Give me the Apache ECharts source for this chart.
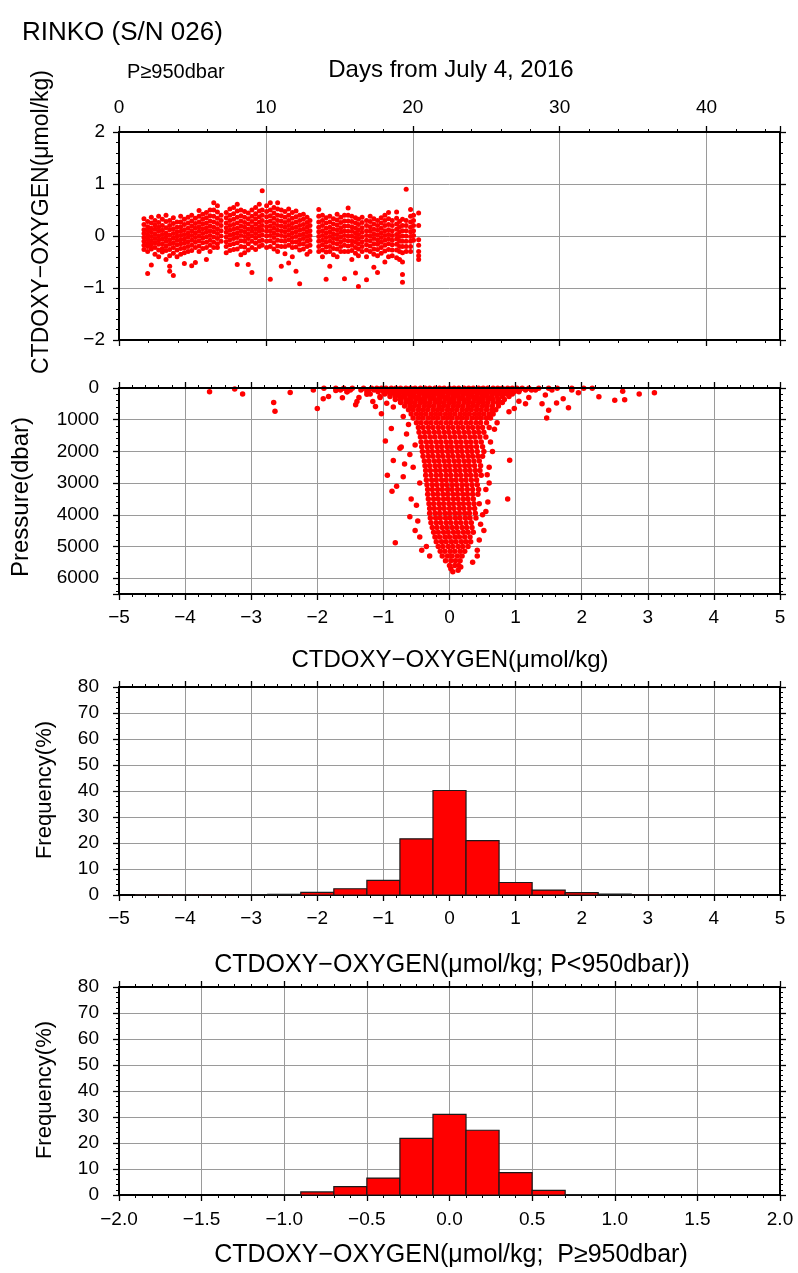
<!DOCTYPE html>
<html><head><meta charset="utf-8">
<script src="https://cdn.jsdelivr.net/npm/echarts@6/dist/echarts.min.js"></script>
<style>html,body{margin:0;padding:0;background:#fff}#c{width:798px;height:1273px}</style>
</head><body><div id="c"></div>
<script>
// ---------- Panel 1: CTDOXY-OXYGEN vs days (P>=950dbar), one column per cast ----------
const p1Days = [1.7,1.95,2.2,2.45,2.7,2.95,3.2,3.45,3.7,3.95,4.2,4.45,4.7,4.95,5.2,5.45,5.7,5.95,6.2,6.45,6.7,6.95,
 7.3,7.55,7.8,8.05,8.3,8.55,8.8,9.05,9.3,9.55,9.75,10.05,10.3,10.55,10.8,11.05,11.3,11.55,11.8,12.05,12.3,12.55,12.8,13.0,
 13.6,13.85,14.1,14.35,14.6,14.85,15.1,15.35,15.6,15.85,16.1,16.3,16.55,16.85,17.1,17.35,17.6,17.85,18.1,18.35,18.6,18.9,
 19.1,19.3,19.55,19.85,20.05,20.4];
const p1Vals = [
 [0.33,0.22,0.12,0.05,-0.03,-0.1,-0.18,-0.26],
 [0.28,0.18,0.1,0.02,-0.06,-0.14,-0.2,-0.3,-0.72],
 [0.36,0.25,0.15,0.07,-0.01,-0.09,-0.17,-0.25,-0.56],
 [0.3,0.21,0.13,0.04,-0.05,-0.13,-0.22,-0.35],
 [0.38,0.26,0.17,0.09,0.0,-0.08,-0.16,-0.27,-0.4],
 [0.32,0.2,0.11,0.03,-0.06,-0.15,-0.24,-0.31],
 [0.4,0.28,0.16,0.06,-0.02,-0.1,-0.19,-0.28,-0.45],
 [0.3,0.2,0.12,0.02,-0.07,-0.16,-0.26,-0.38,-0.58,-0.68],
 [0.35,0.24,0.14,0.05,-0.04,-0.13,-0.22,-0.33,-0.76],
 [0.27,0.17,0.08,0.0,-0.08,-0.17,-0.27,-0.4],
 [0.38,0.27,0.18,0.09,0.01,-0.07,-0.15,-0.24,-0.35],
 [0.32,0.22,0.12,0.03,-0.06,-0.14,-0.23,-0.32,-0.53],
 [0.36,0.25,0.15,0.06,-0.02,-0.11,-0.2,-0.3],
 [0.4,0.29,0.19,0.1,0.01,-0.08,-0.18,-0.28,-0.57],
 [0.34,0.24,0.15,0.06,-0.03,-0.12,-0.22,-0.51],
 [0.49,0.38,0.27,0.18,0.09,0.0,-0.09,-0.19,-0.3],
 [0.42,0.32,0.23,0.14,0.05,-0.04,-0.13,-0.24],
 [0.45,0.35,0.25,0.16,0.07,-0.02,-0.12,-0.22,-0.45],
 [0.5,0.39,0.29,0.19,0.1,0.01,-0.08,-0.18,-0.3],
 [0.64,0.5,0.38,0.27,0.17,0.08,-0.02,-0.12,-0.22],
 [0.58,0.46,0.34,0.24,0.14,0.05,-0.05,-0.15,-0.22],
 [0.4,0.3,0.2,0.1,0.0,-0.1],
 [0.45,0.35,0.25,0.16,0.07,-0.02,-0.11,-0.2,-0.32],
 [0.52,0.4,0.3,0.2,0.11,0.02,-0.07,-0.17,-0.28],
 [0.55,0.43,0.32,0.22,0.13,0.04,-0.05,-0.15,-0.26],
 [0.61,0.48,0.36,0.25,0.15,0.06,-0.03,-0.13,-0.25,-0.55],
 [0.5,0.39,0.29,0.19,0.1,0.01,-0.09,-0.2,-0.36],
 [0.47,0.36,0.26,0.17,0.08,-0.01,-0.1,-0.21,-0.32],
 [0.44,0.33,0.23,0.13,0.04,-0.05,-0.15,-0.27,-0.55],
 [0.5,0.38,0.28,0.18,0.09,0.0,-0.1,-0.22,-0.7],
 [0.55,0.43,0.33,0.23,0.14,0.05,-0.04,-0.14,-0.26],
 [0.61,0.48,0.37,0.27,0.18,0.09,0.0,-0.1,-0.2],
 [0.87,0.5,0.4,0.3,0.2,0.11,0.02,-0.08,-0.18],
 [0.58,0.47,0.37,0.27,0.18,0.09,0.0,-0.1,-0.22],
 [0.64,0.5,0.39,0.29,0.19,0.1,0.01,-0.09,-0.2,-0.83],
 [0.55,0.44,0.34,0.24,0.15,0.06,-0.03,-0.13,-0.25],
 [0.64,0.52,0.4,0.3,0.2,0.11,0.02,-0.08,-0.19,-0.3],
 [0.5,0.39,0.29,0.19,0.1,0.01,-0.09,-0.2,-0.58],
 [0.47,0.36,0.26,0.17,0.08,-0.01,-0.1,-0.2,-0.34],
 [0.52,0.4,0.3,0.2,0.11,0.02,-0.07,-0.18,-0.52],
 [0.45,0.34,0.24,0.15,0.06,-0.03,-0.12,-0.22,-0.4],
 [0.48,0.37,0.27,0.17,0.08,-0.01,-0.11,-0.21,-0.68],
 [0.4,0.3,0.2,0.11,0.02,-0.07,-0.16,-0.27,-0.92],
 [0.42,0.32,0.22,0.13,0.04,-0.05,-0.15,-0.25],
 [0.36,0.26,0.17,0.08,-0.01,-0.1,-0.2,-0.35],
 [0.3,0.2,0.1,0.01,-0.08,-0.18,-0.3],
 [0.51,0.38,0.27,0.17,0.08,-0.01,-0.1,-0.2,-0.3],
 [0.4,0.3,0.2,0.1,0.01,-0.08,-0.17,-0.27,-0.4],
 [0.35,0.25,0.15,0.06,-0.03,-0.12,-0.21,-0.31,-0.83],
 [0.38,0.27,0.17,0.08,-0.01,-0.1,-0.2,-0.3,-0.58],
 [0.33,0.23,0.13,0.04,-0.05,-0.14,-0.24,-0.36],
 [0.42,0.31,0.21,0.12,0.03,-0.06,-0.15,-0.25,-0.4],
 [0.36,0.26,0.16,0.07,-0.02,-0.11,-0.2,-0.3],
 [0.4,0.29,0.19,0.1,0.01,-0.08,-0.18,-0.3,-0.82],
 [0.54,0.4,0.29,0.19,0.09,0.0,-0.09,-0.19,-0.3],
 [0.38,0.28,0.18,0.09,0.0,-0.09,-0.18,-0.28,-0.45],
 [0.35,0.25,0.15,0.06,-0.03,-0.12,-0.22,-0.33,-0.71],
 [0.32,0.22,0.12,0.03,-0.06,-0.15,-0.25,-0.38,-0.97],
 [0.36,0.26,0.16,0.07,-0.02,-0.11,-0.2,-0.3],
 [0.3,0.2,0.1,0.01,-0.08,-0.17,-0.27,-0.4,-0.84],
 [0.38,0.28,0.18,0.09,0.0,-0.09,-0.19,-0.3],
 [0.33,0.23,0.13,0.04,-0.05,-0.15,-0.25,-0.35,-0.6],
 [0.3,0.2,0.11,0.02,-0.07,-0.16,-0.26,-0.38,-0.7],
 [0.35,0.25,0.15,0.06,-0.03,-0.12,-0.22,-0.33],
 [0.4,0.3,0.2,0.1,0.01,-0.08,-0.18,-0.29,-0.5],
 [0.45,0.33,0.22,0.12,0.03,-0.06,-0.15,-0.26,-0.4],
 [0.3,0.2,0.1,0.01,-0.08,-0.17,-0.27,-0.38],
 [0.46,0.34,0.23,0.13,0.03,-0.06,-0.16,-0.27,-0.42],
 [0.28,0.18,0.08,-0.01,-0.1,-0.2,-0.3,-0.45],
 [0.32,0.2,0.1,0.0,-0.1,-0.2,-0.32,-0.5,-0.74,-0.89],
 [0.9,0.3,0.2,0.1,0.0,-0.1,-0.2,-0.3],
 [0.51,0.38,0.27,0.17,0.08,-0.01,-0.1,-0.2,-0.3],
 [0.4,0.3,0.2,0.1,0.01,-0.08],
 [0.44,0.2,-0.07,-0.18,-0.3,-0.38,-0.45]
];

// ---------- Panel 2: pressure (dbar) vs CTDOXY-OXYGEN, grouped by pressure level ----------
const p2Press = [10,60,120,190,270,360,460,570,690,820,950,
 1100,1250,1400,1550,1700,1850,2000,2150,2300,2450,2600,2750,2900,3050,3200,3350,3500,3650,3800,3950,
 4100,4250,4400,4550,4700,4850,5000,5150,5300,5450,5600];
const p2Diff = [
 [-1.9,-1.72,-1.6,-1.47,-1.3,-1.18,-1.1,-1.03,-0.96,-0.88,-0.81,-0.74,-0.66,-0.59,-0.52,-0.44,-0.37,-0.3,-0.22,-0.15,-0.08,0.0,0.07,0.14,0.22,0.29,0.36,0.44,0.51,0.58,0.66,0.73,0.8,0.88,0.95,1.02,1.1,1.2,1.35,1.5,1.63,1.85,2.03,2.16],
 [-1.65,-1.5,-1.34,-1.22,-1.14,-1.06,-0.99,-0.92,-0.84,-0.77,-0.7,-0.62,-0.55,-0.48,-0.4,-0.33,-0.26,-0.18,-0.11,-0.04,0.04,0.11,0.18,0.26,0.33,0.4,0.48,0.55,0.62,0.7,0.77,0.84,0.92,0.99,1.06,1.15,1.3,1.55],
 [-1.55,-1.25,-1.08,-1.0,-0.93,-0.86,-0.78,-0.71,-0.64,-0.56,-0.49,-0.42,-0.34,-0.27,-0.2,-0.12,-0.05,0.02,0.1,0.17,0.24,0.32,0.39,0.46,0.54,0.61,0.68,0.76,0.83,0.9,0.98,1.05],
 [-1.2,-0.98,-0.9,-0.83,-0.76,-0.68,-0.61,-0.54,-0.46,-0.39,-0.32,-0.24,-0.17,-0.1,-0.02,0.05,0.12,0.2,0.27,0.34,0.42,0.49,0.56,0.64,0.71,0.78,0.86,0.95],
 [-1.05,-0.9,-0.82,-0.75,-0.68,-0.6,-0.53,-0.46,-0.38,-0.31,-0.24,-0.16,-0.09,-0.02,0.06,0.13,0.2,0.28,0.35,0.42,0.5,0.57,0.64,0.72,0.8,0.9],
 [-0.82,-0.74,-0.66,-0.59,-0.51,-0.44,-0.37,-0.29,-0.22,-0.15,-0.07,0.0,0.07,0.15,0.22,0.29,0.37,0.44,0.51,0.59,0.66,0.74,0.83],
 [-0.74,-0.66,-0.59,-0.52,-0.44,-0.37,-0.3,-0.22,-0.15,-0.08,0.0,0.07,0.14,0.22,0.29,0.36,0.44,0.51,0.58,0.66,0.73,0.8],
 [-0.68,-0.6,-0.53,-0.46,-0.38,-0.31,-0.24,-0.16,-0.09,-0.02,0.06,0.13,0.2,0.28,0.35,0.42,0.5,0.57,0.65,0.74],
 [-0.62,-0.55,-0.47,-0.4,-0.33,-0.25,-0.18,-0.11,-0.03,0.04,0.11,0.19,0.26,0.33,0.41,0.48,0.56,0.64,0.7],
 [-0.58,-0.5,-0.43,-0.36,-0.28,-0.21,-0.14,-0.06,0.01,0.08,0.16,0.23,0.3,0.38,0.45,0.52,0.6,0.66],
 [-0.55,-0.47,-0.4,-0.32,-0.25,-0.18,-0.1,-0.03,0.04,0.12,0.19,0.26,0.34,0.41,0.48,0.56,0.62],
 [-0.5,-0.43,-0.35,-0.28,-0.2,-0.13,-0.05,0.02,0.1,0.17,0.25,0.32,0.4,0.47,0.56],
 [-0.47,-0.4,-0.32,-0.25,-0.17,-0.1,-0.02,0.05,0.13,0.2,0.28,0.35,0.43,0.5,0.6],
 [-0.46,-0.38,-0.31,-0.23,-0.16,-0.08,-0.01,0.07,0.14,0.22,0.29,0.37,0.44,0.52],
 [-0.44,-0.37,-0.29,-0.22,-0.14,-0.07,0.01,0.08,0.16,0.23,0.31,0.38,0.46,0.55],
 [-0.43,-0.35,-0.28,-0.2,-0.13,-0.05,0.02,0.1,0.17,0.25,0.32,0.4,0.48],
 [-0.42,-0.34,-0.27,-0.19,-0.12,-0.04,0.03,0.11,0.18,0.26,0.33,0.41,0.5],
 [-0.41,-0.33,-0.26,-0.18,-0.11,-0.03,0.04,0.12,0.19,0.27,0.34,0.42,0.52],
 [-0.4,-0.32,-0.25,-0.17,-0.1,-0.02,0.05,0.13,0.2,0.28,0.35,0.43,0.5],
 [-0.38,-0.31,-0.23,-0.16,-0.08,-0.01,0.07,0.14,0.22,0.29,0.37,0.45],
 [-0.37,-0.3,-0.22,-0.15,-0.07,0.0,0.08,0.15,0.23,0.3,0.38,0.47],
 [-0.36,-0.29,-0.21,-0.14,-0.06,0.01,0.09,0.16,0.24,0.31,0.39,0.46],
 [-0.36,-0.28,-0.2,-0.13,-0.05,0.02,0.1,0.17,0.25,0.32,0.4,0.48],
 [-0.35,-0.27,-0.2,-0.12,-0.05,0.03,0.1,0.18,0.25,0.33,0.41],
 [-0.34,-0.26,-0.19,-0.11,-0.04,0.04,0.11,0.19,0.26,0.34,0.42],
 [-0.33,-0.26,-0.18,-0.11,-0.03,0.04,0.12,0.19,0.27,0.35,0.44],
 [-0.33,-0.25,-0.18,-0.1,-0.03,0.05,0.12,0.2,0.27,0.35,0.43],
 [-0.32,-0.24,-0.17,-0.09,-0.02,0.06,0.13,0.21,0.28,0.36],
 [-0.31,-0.24,-0.16,-0.09,-0.01,0.06,0.14,0.21,0.29,0.37,0.45],
 [-0.3,-0.23,-0.15,-0.08,0.0,0.07,0.15,0.22,0.3,0.38],
 [-0.3,-0.22,-0.15,-0.07,0.0,0.08,0.15,0.23,0.3,0.39],
 [-0.29,-0.21,-0.14,-0.06,0.01,0.09,0.16,0.24,0.31,0.4],
 [-0.28,-0.2,-0.13,-0.05,0.02,0.1,0.17,0.25,0.33],
 [-0.26,-0.19,-0.11,-0.04,0.04,0.11,0.19,0.26,0.34],
 [-0.24,-0.17,-0.09,-0.02,0.06,0.13,0.21,0.28,0.36],
 [-0.22,-0.15,-0.07,0.0,0.08,0.15,0.23,0.31],
 [-0.2,-0.12,-0.05,0.03,0.1,0.18,0.25,0.32],
 [-0.17,-0.1,-0.02,0.05,0.13,0.2,0.28],
 [-0.14,-0.07,0.01,0.08,0.16,0.23],
 [-0.11,-0.03,0.04,0.12,0.19],
 [-0.06,0.02,0.09,0.16],
 [0.0,0.08,0.14]
];
// scattered points [difference, pressure]
const p2Extra = [
 [-3.63,115],[-3.25,30],[-3.13,190],[-2.66,455],[-2.64,735],[-2.41,145],[-2.06,60],[-2.0,650],[-1.91,340],[-1.83,270],
 [-1.72,80],[-1.62,310],[-1.55,120],[-1.4,425],[-1.37,300],[-1.42,530],[-1.16,425],[-1.12,580],[-1.03,810],[-0.97,1670],
 [-0.88,1280],[-0.85,2290],[-0.75,1900],[-0.94,2750],[-0.87,3260],[-0.8,3100],[-0.7,2800],[-0.6,4060],[-0.82,4880],[-0.52,4500],
 [-0.42,5120],[-0.73,1860],[-0.65,1450],[-0.6,2100],[-0.55,2500],[-0.58,3500],[-0.5,3700],[-0.48,4200],[-0.45,3000],[-0.62,1150],
 [-0.7,900],[-0.85,600],[-0.95,480],[-1.05,300],[-1.25,200],[-0.68,2400],[-0.52,1800],[-0.45,4700],[-0.35,5000],[-0.3,5300],
 [3.1,150],[2.87,190],[2.65,370],[2.62,100],[2.5,390],[2.26,280],[1.95,150],[1.85,60],[1.8,620],[1.72,340],
 [1.62,470],[1.5,705],[1.47,950],[1.45,220],[1.4,500],[1.24,60],[1.15,500],[0.98,650],[0.9,750],[1.2,300],
 [1.05,420],[0.91,2280],[0.88,3500],[0.57,2740],[0.55,3200],[0.55,3900],[0.47,4300],[0.42,5120],[0.42,5300],[0.17,5650],
 [0.13,5750],[0.02,5700],[0.62,1700],[0.65,2000],[0.6,2500],[0.6,3000],[0.68,1300],[0.72,1100],[0.58,3600],[0.52,4500],
 [0.5,4000],[0.45,4800],[0.35,5500],[0.05,5800]
];

// ---------- Panel 3: histogram P<950dbar (bin width 0.5) ----------
const h1Centers = [-4.5,-4,-3.5,-3,-2.5,-2,-1.5,-1,-0.5,0,0.5,1,1.5,2,2.5,3];
const h1Freq    = [0.05,0.1,0.1,0.15,0.25,1.0,2.4,5.6,21.6,40.2,20.9,4.8,1.9,0.9,0.35,0.1];
const h1Width = 0.5;
// ---------- Panel 4: histogram P>=950dbar (bin width 0.2) ----------
const h2Centers = [-1.0,-0.8,-0.6,-0.4,-0.2,0.0,0.2,0.4,0.6,0.8];
const h2Freq    = [0.2,1.2,3.2,6.5,21.8,31.0,24.9,8.6,1.8,0.2];
const h2Width = 0.2;

// ---------- build ----------
const FONT = 'Liberation Sans';
const p1Data = [];
p1Days.forEach((d,i)=>(p1Vals[i]||[]).forEach(v=>p1Data.push([d,v])));
const p2Data = [];
p2Press.forEach((p,i)=>(p2Diff[i]||[]).forEach(x=>p2Data.push([x,p])));
p2Extra.forEach(e=>p2Data.push(e));
const h1Data = h1Centers.map((c,i)=>[c-h1Width/2, c+h1Width/2, h1Freq[i]]);
const h2Data = h2Centers.map((c,i)=>[c-h2Width/2, c+h2Width/2, h2Freq[i]]);

const minus = s => String(s).replace('-', '\u2212');
function axis(dim, g, o, lab, grid, front){
  const a = {
    type:'value', gridIndex:g, z: front ? 10 : 0,
    axisLine:{show:true,onZero:false,lineStyle:{color:'#000',width:2}},
    axisTick:{show:true,inside:false,length:6,lineStyle:{color:'#000',width:1.3}},
    minorTick:{show:true,splitNumber:5,length:3,lineStyle:{color:'#000',width:1}},
    splitLine:{show:!!grid,lineStyle:{color:'#9a9a9a',width:1}},
    minorSplitLine:{show:false},
    axisLabel: lab ? Object.assign({show:true,color:'#000',fontFamily:FONT,fontSize:19}, lab) : {show:false}
  };
  return Object.assign(a, o);
}
const grids = [
  {left:119,right:18,top:132,height:208},
  {left:119,right:18,top:388,height:206},
  {left:119,right:18,top:687,height:208},
  {left:119,right:18,top:987,height:208}
].map(g=>Object.assign(g,{outerBoundsMode:'none',containLabel:false}));

const xAxes = [
  axis('x',0,{position:'top',min:0,max:45,interval:10},{margin:15,showMaxLabel:false},true,false),
  axis('x',0,{position:'bottom',min:0,max:45,interval:10},null,false,true),
  axis('x',1,{position:'bottom',min:-5,max:5,interval:1},{margin:14,formatter:minus},true,false),
  axis('x',1,{position:'top',min:-5,max:5,interval:1},null,false,true),
  axis('x',2,{position:'bottom',min:-5,max:5,interval:1},{margin:14,formatter:minus},true,false),
  axis('x',2,{position:'top',min:-5,max:5,interval:1},null,false,true),
  axis('x',3,{position:'bottom',min:-2,max:2,interval:0.5},{margin:15,formatter:v=>minus(Number(v).toFixed(1))},true,false),
  axis('x',3,{position:'top',min:-2,max:2,interval:0.5},null,false,true)
];
const yAxes = [
  axis('y',0,{position:'left',min:-2,max:2,interval:1},{margin:14,formatter:minus},true,false),
  axis('y',0,{position:'right',min:-2,max:2,interval:1},null,false,true),
  axis('y',1,{position:'left',min:0,max:6500,interval:1000,inverse:true},{margin:20,showMaxLabel:false,formatter:v=>String(v)},true,false),
  axis('y',1,{position:'right',min:0,max:6500,interval:1000,inverse:true},null,false,true),
  axis('y',2,{position:'left',min:0,max:80,interval:10},{margin:20},true,false),
  axis('y',2,{position:'right',min:0,max:80,interval:10},null,false,true),
  axis('y',3,{position:'left',min:0,max:80,interval:10},{margin:20},true,false),
  axis('y',3,{position:'right',min:0,max:80,interval:10},null,false,true)
];
function histItem(params, api){
  const a = api.coord([api.value(0), api.value(2)]);
  const b = api.coord([api.value(1), 0]);
  return {type:'rect', shape:{x:a[0], y:a[1], width:b[0]-a[0], height:b[1]-a[1]},
    style:{fill:'#ff0000', stroke:'#1a1a1a', lineWidth:1.2}};
}
function txt(t, x, y, size, opt, align){
  return Object.assign({type:'text', x, y, z:20,
    style:{text:t, font: size+'px "Liberation Sans"', fill:'#000', align:align||'center', verticalAlign:'middle',
      textAlign:align||'center', textVerticalAlign:'middle'}}, opt||{});
}
const graphics = [
  txt('RINKO (S/N 026)', 22, 33, 26, null, 'left'),
  txt('P\u2265950dbar', 127, 72, 20, null, 'left'),
  txt('Days from July 4, 2016', 451, 70, 24),
  txt('CTDOXY\u2212OXYGEN(\u03bcmol/kg)', 42, 222, 23, {rotation:Math.PI/2}),
  txt('Pressure(dbar)', 21, 497, 24, {rotation:Math.PI/2}),
  txt('CTDOXY\u2212OXYGEN(\u03bcmol/kg)', 450, 660, 24),
  txt('Frequency(%)', 45, 790, 22, {rotation:Math.PI/2}),
  txt('CTDOXY\u2212OXYGEN(\u03bcmol/kg; P<950dbar))', 452, 965, 25),
  txt('Frequency(%)', 45, 1090, 22, {rotation:Math.PI/2}),
  txt('CTDOXY\u2212OXYGEN(\u03bcmol/kg;  P\u2265950dbar)', 451, 1255, 25)
];
const option = {
  animation:false, backgroundColor:'#fff',
  grid: grids, xAxis: xAxes, yAxis: yAxes, graphic: graphics,
  series: [
    {type:'scatter', xAxisIndex:0, yAxisIndex:0, data:p1Data, symbol:'circle', symbolSize:5,
     itemStyle:{color:'#ff0000', opacity:1}, z:3},
    {type:'scatter', xAxisIndex:2, yAxisIndex:2, data:p2Data, symbol:'circle', symbolSize:5.5,
     itemStyle:{color:'#ff0000', opacity:1}, z:3},
    {type:'custom', xAxisIndex:4, yAxisIndex:4, data:h1Data, renderItem:histItem, encode:{x:[0,1],y:2}, z:3},
    {type:'custom', xAxisIndex:6, yAxisIndex:6, data:h2Data, renderItem:histItem, encode:{x:[0,1],y:2}, z:3}
  ]
};
const chart = echarts.init(document.getElementById('c'), null, {renderer:'canvas'});
chart.setOption(option);
</script></body></html>
